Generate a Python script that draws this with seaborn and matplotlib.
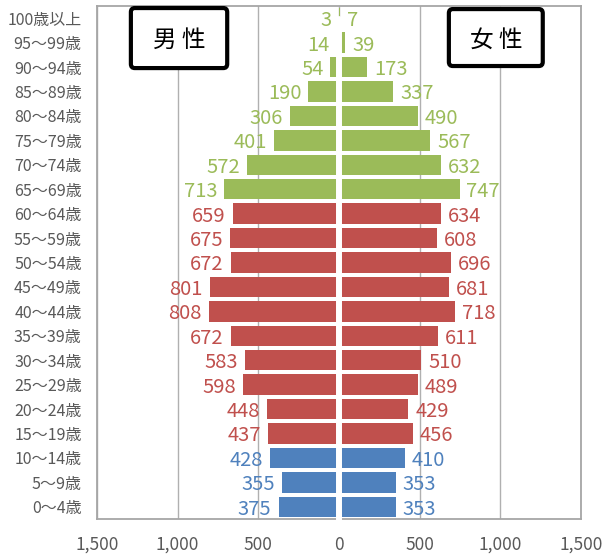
import pandas as pd
import matplotlib.pyplot as plt
from matplotlib.patches import FancyBboxPatch
import seaborn as sns

# ── Data ─────────────────────────────────────────────────────────────────────
ages = ["100歳以上", "95～99歳", "90～94歳", "85～89歳", "80～84歳", "75～79歳",
        "70～74歳", "65～69歳", "60～64歳", "55～59歳", "50～54歳", "45～49歳",
        "40～44歳", "35～39歳", "30～34歳", "25～29歳", "20～24歳", "15～19歳",
        "10～14歳", "5～9歳", "0～4歳"]
male = [3, 14, 54, 190, 306, 401, 572, 713, 659, 675, 672, 801,
        808, 672, 583, 598, 448, 437, 428, 355, 375]
female = [7, 39, 173, 337, 490, 567, 632, 747, 634, 608, 696, 681,
          718, 611, 510, 489, 429, 456, 410, 353, 353]
groups = ["老年"] * 8 + ["生産"] * 10 + ["年少"] * 3
palette = {"老年": "#9BBB59", "生産": "#C0504D", "年少": "#4F81BD"}

x_ticks = [-1500, -1000, -500, 0, 500, 1000, 1500]
x_ticklabels = ["1,500", "1,000", "500", "0", "500", "1,000", "1,500"]

# ── Style ────────────────────────────────────────────────────────────────────
sns.set_theme(style="white")
plt.rcParams["font.family"] = ["Noto Sans CJK JP", "DejaVu Sans"]

df = pd.DataFrame({"age": ages, "male": male, "female": female, "group": groups})
df["male_neg"] = -df["male"]

fig = plt.figure(figsize=(6.06, 5.59), dpi=100)
ax = fig.add_axes([97 / 606, 1 - 519 / 559, 484 / 606, 513 / 559])

for col in ["male_neg", "female"]:
    sns.barplot(data=df, x=col, y="age", hue="group", palette=palette,
                order=ages, dodge=False, width=0.84, legend=False,
                saturation=1, linewidth=0, orient="h", ax=ax)

ax.set_xlim(-1500, 1500)
ax.set_ylim(20.5, -0.5)
ax.set_xlabel("")
ax.set_ylabel("")
ax.set_xticks(x_ticks)
ax.set_xticklabels(x_ticklabels, fontsize=12.5, color="#595959")
ax.tick_params(axis="x", length=0, pad=12)
ax.tick_params(axis="y", length=0, pad=11, labelsize=11.5, labelcolor="#595959")
ax.grid(axis="x", color="#b0b0b0", lw=1)
ax.set_axisbelow(True)
for sp in ax.spines.values():
    sp.set_color("#a6a6a6")
    sp.set_linewidth(1.3)

# white gap in the centre
ax.axvline(0, ymin=-0.004, ymax=0.975, color="white", lw=4.3, zorder=4, clip_on=False)

# value labels
for i in range(len(ages)):
    c = palette[groups[i]]
    ax.annotate(f"{male[i]}", xy=(-male[i], i), xytext=(-5, 0),
                textcoords="offset points", ha="right", va="center_baseline",
                color=c, fontsize=14.5, zorder=6)
    ax.annotate(f"{female[i]}", xy=(female[i], i), xytext=(5, 0),
                textcoords="offset points", ha="left", va="center_baseline",
                color=c, fontsize=14.5, zorder=6)

# sex boxes
for (x0, x1, y0, y1), label in [((0.070, 0.269, 0.879, 0.996), "男 性"),
                                ((0.727, 0.921, 0.883, 0.994), "女 性")]:
    box = FancyBboxPatch((x0, y0), x1 - x0, y1 - y0,
                         boxstyle="round,pad=0,rounding_size=0.008",
                         transform=ax.transAxes, fc="white", ec="black",
                         lw=3, zorder=5, clip_on=False)
    ax.add_patch(box)
    ax.text((x0 + x1) / 2, (y0 + y1) / 2, label, transform=ax.transAxes,
            ha="center", va="center_baseline", fontsize=17, color="black", zorder=6)

fig.savefig("out.png", dpi=100)
